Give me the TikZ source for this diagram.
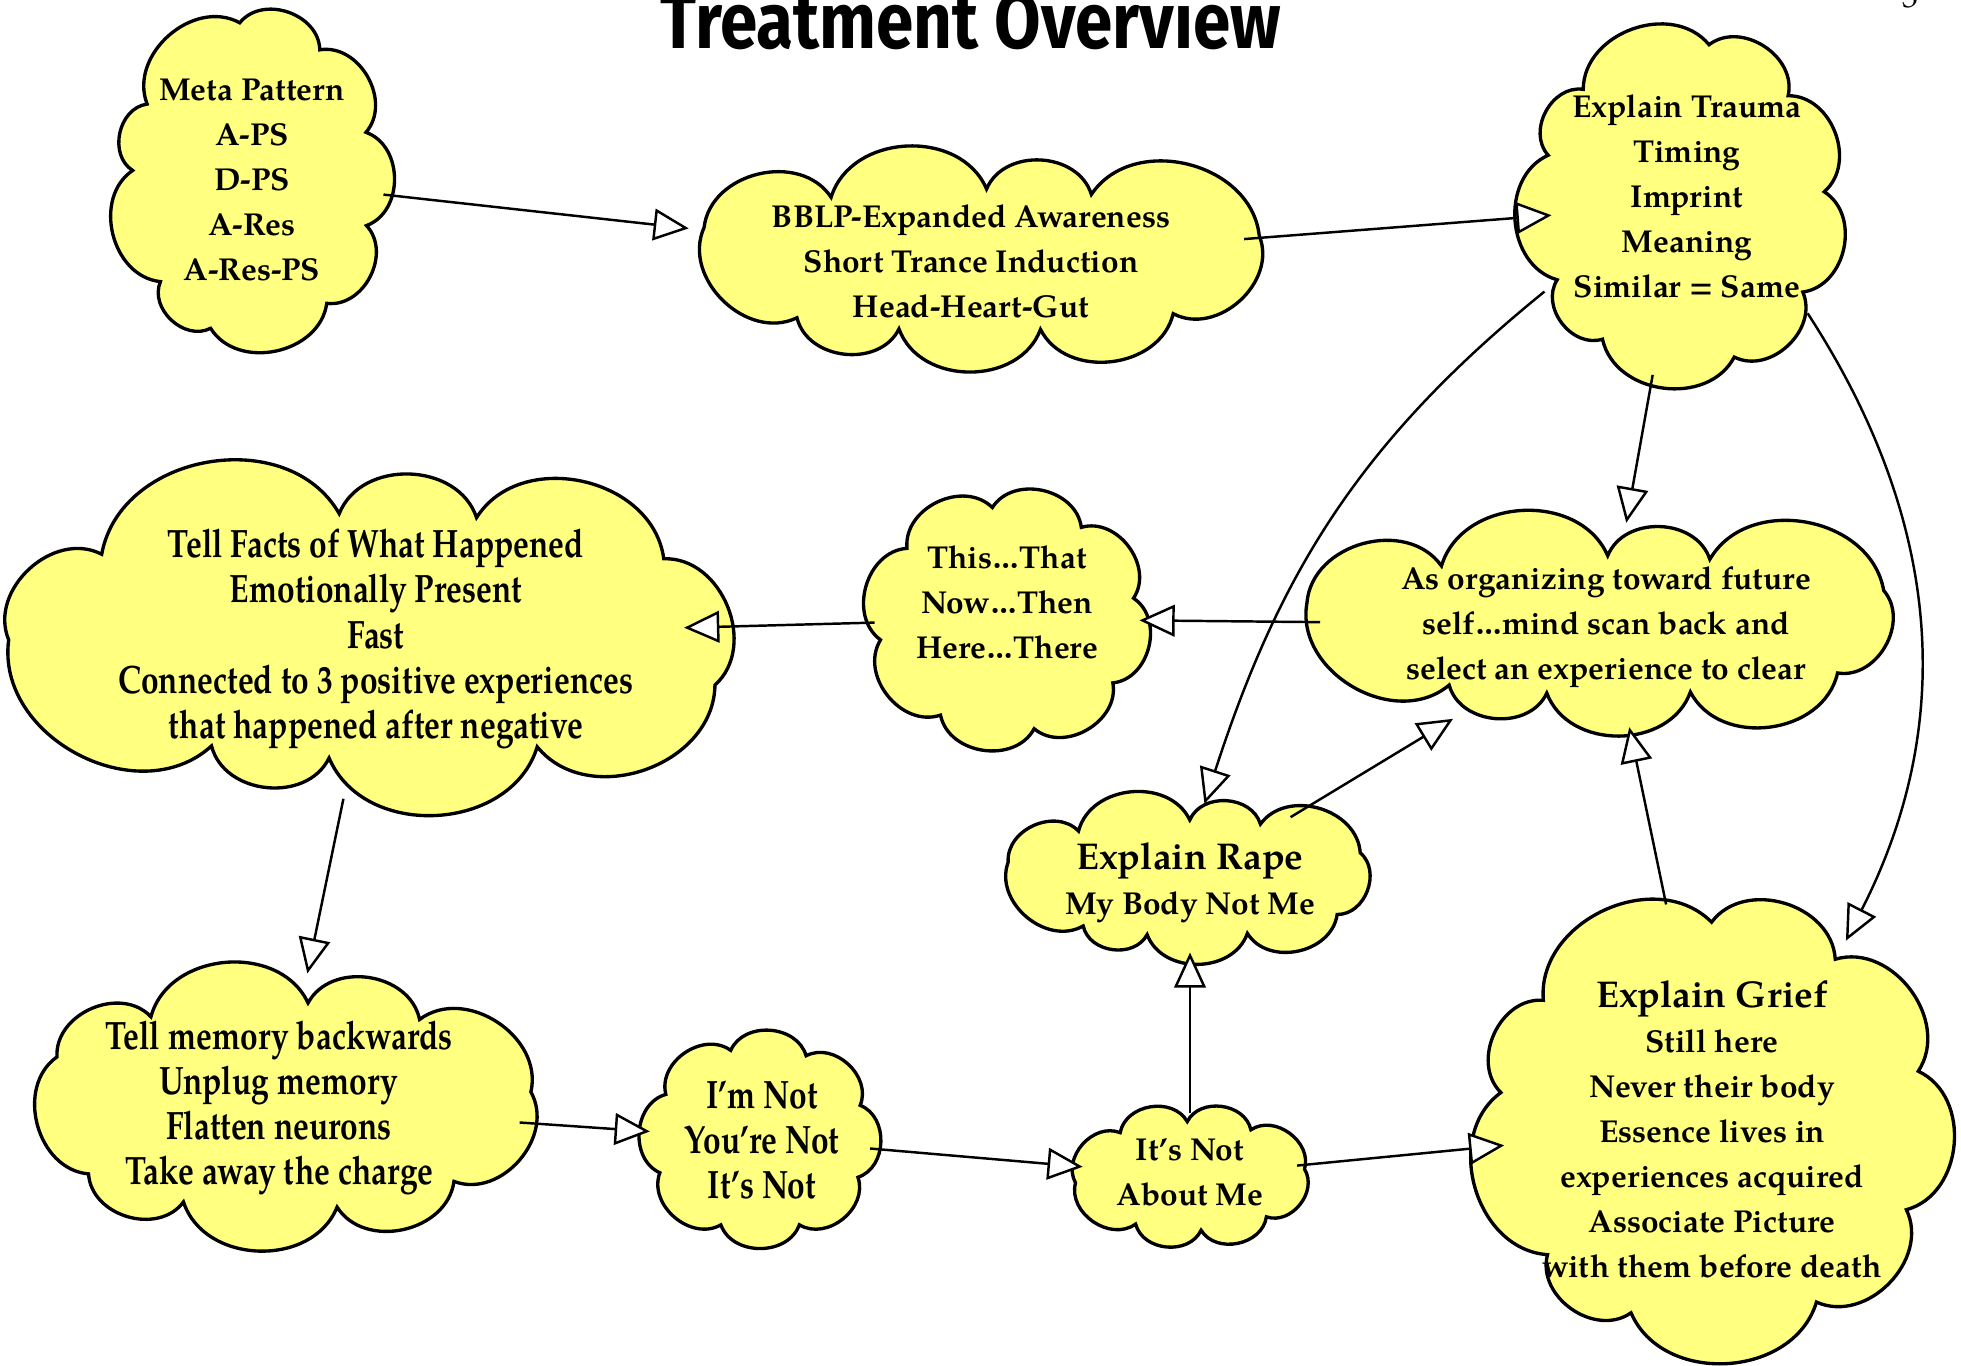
\documentclass[tikz,border=0pt]{standalone}
\usepackage{fontspec}
\usepackage{graphicx}
\usetikzlibrary{shapes.geometric,arrows.meta}
\newfontfamily\palb{texgyrepagella-bold.otf}
\newfontfamily\palr{texgyrepagella-regular.otf}
\newfontfamily\titlefont{Fira Sans}
\definecolor{cloudyellow}{RGB}{255,255,128}
\newcommand\tl[1]{\scalebox{1}[1.25]{#1}}
\newcommand\headline[1]{{\fontsize{10.6}{12.8}\selectfont #1}}
\tikzset{
  cloudanchor/.style={ellipse, draw=none, inner sep=0pt, outer sep=-0.1cm},
  cloudline/.style={draw=black, line width=0.95pt, fill=cloudyellow, line join=miter},
  txt/.style={align=center, inner sep=0pt, font=\palb\fontsize{9}{12.8}\selectfont},
  link/.style={line width=0.7pt, -{Triangle[fill=white, length=10pt, width=9pt]}},
}
% #1 name, #2 cx, #3 cy, #4 W px, #5 H px, #6 puffs, #7 phase, #8 drawing W, #9 drawing H
\newcommand\mycloud[9]{%
  \node[cloudanchor, minimum width=#4*0.01cm, minimum height=#5*0.01cm] (#1) at (#2,#3) {};
  \pgfmathsetmacro\cA{#8/200}\pgfmathsetmacro\cB{#9/200}%
  \pgfmathsetmacro\cP{2*pi*sqrt((\cA*\cA+\cB*\cB)/2)}%
  \pgfmathsetmacro\cBz{0.29*\cP/#6}%
  \pgfmathsetmacro\cBb{0.29*(\cP-2*pi*\cBz)/#6}%
  \pgfmathsetmacro\cRx{100*(\cA-\cBb)}\pgfmathsetmacro\cRy{100*(\cB-\cBb)}%
  \pgfmathsetmacro\cQ{\cRx/\cRy}%
  \pgfmathsetmacro\cSq{sqrt(\cQ)}%
  \filldraw[cloudline]
    ({#2+\cRx*cos(#7)/sqrt(cos(#7)*cos(#7)+\cQ*sin(#7)*sin(#7))},
     {#3+\cRy*\cSq*sin(#7)/sqrt(cos(#7)*cos(#7)+\cQ*sin(#7)*sin(#7))})
    \foreach \i [evaluate=\i as \cu using #7+\i*(360/#6)+6*sin(\i*(1440/#6))+3*sin(\i*(2520/#6))] in {1,...,#6} {
      to[bend right=70, looseness=1.1]
      ({#2+\cRx*cos(\cu)/sqrt(cos(\cu)*cos(\cu)+\cQ*sin(\cu)*sin(\cu))},
       {#3+\cRy*\cSq*sin(\cu)/sqrt(cos(\cu)*cos(\cu)+\cQ*sin(\cu)*sin(\cu))})
    } -- cycle;
}
\begin{document}
\begin{tikzpicture}[x=0.01cm,y=0.01cm]
\useasboundingbox (0,0) rectangle (1961,-1365);
\fill[white] (0,0) rectangle (1961,-1365);

\node[anchor=base] (title) at (971,-48) {\resizebox{6.2cm}{0.64cm}{\titlefont\bfseries Treatment Overview}};
\node[anchor=base, font=\palr\fontsize{9}{11}\selectfont] (pagenum) at (1910,-7) {3};

% clouds
\mycloud{meta}{252}{-180}{284}{348}{9}{20}{293}{370}
\mycloud{bblp}{974}{-260}{572}{223}{9}{10}{690}{225}
\mycloud{trauma}{1683}{-205}{340}{366}{9}{5}{342}{385}
\mycloud{organize}{1608}{-625}{596}{225}{9}{15}{722}{225}
\mycloud{thisthat}{1007}{-619}{285}{262}{8}{10}{309}{276}
\mycloud{tellfacts}{377}{-636}{734}{347}{9}{25}{841}{350}
\mycloud{rape}{1190}{-878}{369}{169}{9}{15}{431}{169}
\mycloud{tellmem}{280}{-1106}{503}{287}{9}{5}{580}{281}
\mycloud{imnot}{760}{-1139}{241}{222}{8}{20}{258}{227}
\mycloud{itsnot}{1190}{-1176}{237}{147}{8}{5}{269}{147}
\mycloud{grief}{1712}{-1125}{487}{470}{9}{15}{508}{486}

% connectors
\draw[link, shorten >=6pt] (meta) -- (bblp);
\draw[link, shorten >=-8pt] (bblp) -- (trauma);
\draw[link] (trauma) -- (organize);
\draw[link] (organize) -- (thisthat);
\draw[link, shorten >=-14pt] (thisthat) -- (tellfacts);
\draw[link] (tellfacts) -- (tellmem);
\draw[link] (tellmem) -- (imnot);
\draw[link] (imnot) -- (itsnot);
\draw[link] (itsnot) -- (rape);
\draw[link, shorten >=-7pt] (itsnot) -- (grief);
\draw[link, shorten >=3pt] (rape) -- (organize);
\draw[link] (grief) -- (organize);
\draw[link] (trauma.212) to[out=219,in=72] (rape.79);
\draw[link] (trauma.-41) to[out=-57,in=63] (grief.54);

% texts
\node[txt] (metat) at (252,-180) {Meta Pattern\\A-PS\\D-PS\\A-Res\\A-Res-PS};
\node[txt] (bblpt) at (971,-261) {BBLP-Expanded Awareness\\Short Trance Induction\\Head-Heart-Gut};
\node[txt] (traumat) at (1687,-196) {Explain Trauma\\Timing\\Imprint\\Meaning\\Similar = Same};
\node[txt] (organizet) at (1606,-627) {As organizing toward future\\self…mind scan back and\\select an experience to clear};
\node[txt] (thisthatt) at (1007,-602) {This…That\\Now…Then\\Here…There};
\node[txt] (tellfactst) at (376,-639) {\tl{Tell Facts of What Happened}\\\tl{Emotionally Present}\\\tl{Fast}\\\tl{Connected to 3 positive experiences}\\\tl{that happened after negative}};
\node[txt] (rapet) at (1190,-883) {\headline{Explain Rape}\\My Body Not Me};
\node[txt] (tellmemt) at (279,-1108) {\tl{Tell memory backwards}\\\tl{Unplug memory}\\\tl{Flatten neurons}\\\tl{Take away the charge}};
\node[txt] (imnott) at (762,-1140) {\tl{I’m Not}\\\tl{You’re Not}\\\tl{It’s Not}};
\node[txt] (itsnott) at (1190,-1172) {It’s Not\\About Me};
\node[txt] (grieft) at (1712,-1129) {\headline{Explain Grief}\\Still here\\Never their body\\Essence lives in\\experiences acquired\\Associate Picture\\with them before death};
\end{tikzpicture}
\end{document}
